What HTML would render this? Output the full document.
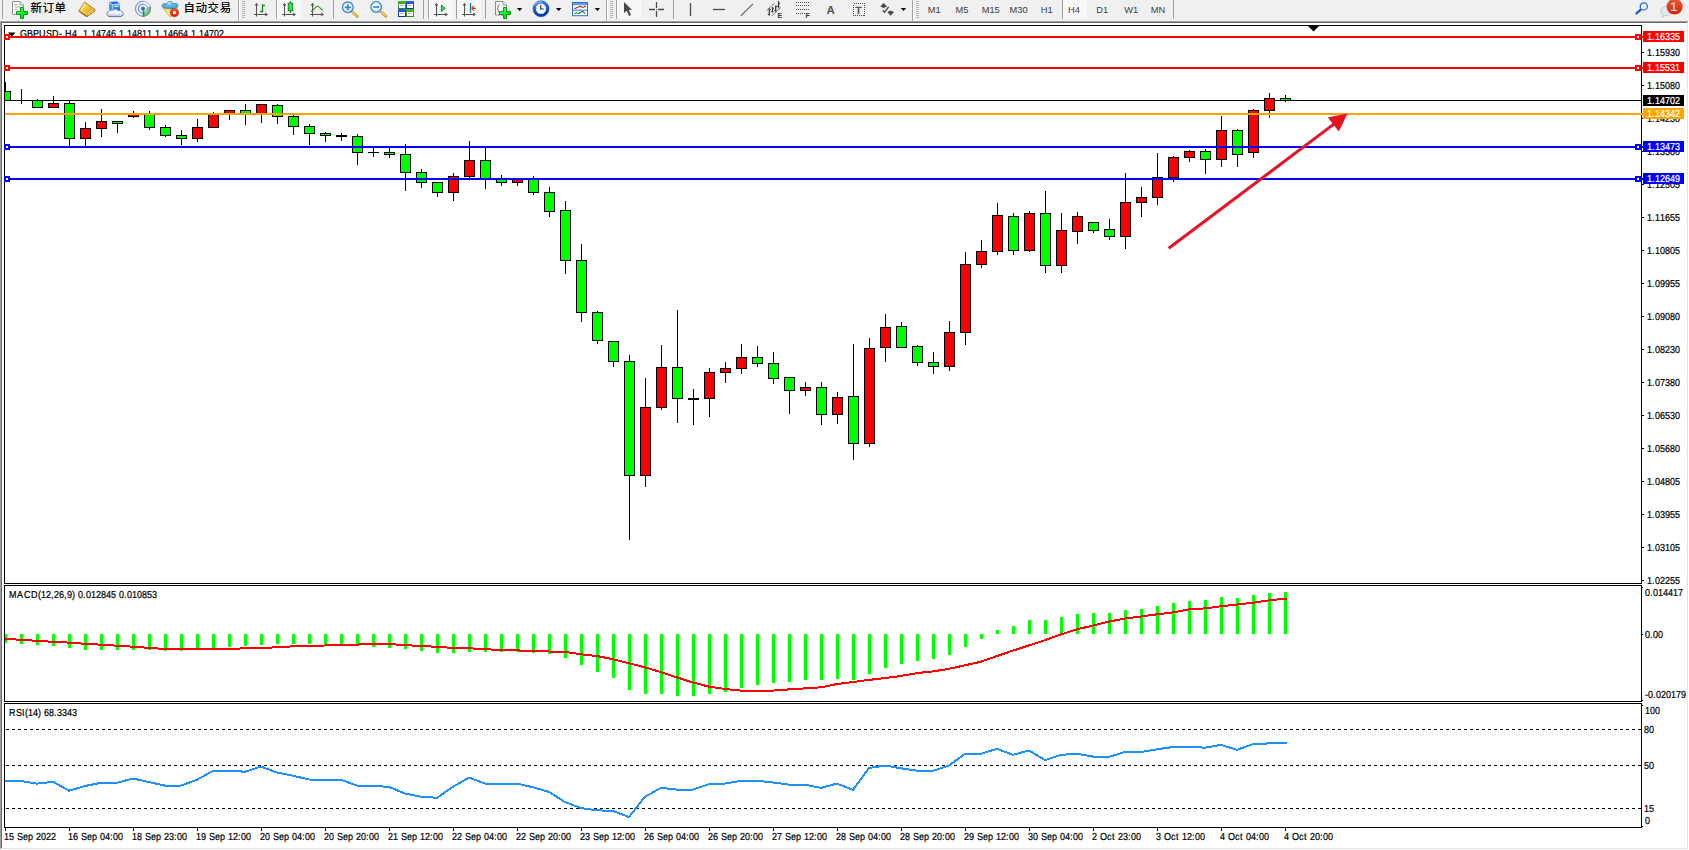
<!DOCTYPE html>
<html lang="zh-CN"><head><meta charset="utf-8"><title>GBPUSD-,H4</title>
<style>html,body{margin:0;padding:0;background:#fff;overflow:hidden}body{width:1689px;height:850px}svg{display:block}text{font-family:"Liberation Sans", sans-serif;font-size:10.17px;fill:#000;text-rendering:geometricPrecision}.t{stroke:#000;stroke-width:.22px}.cj{font-family:"Liberation Sans", "Noto Sans CJK SC", sans-serif;font-size:11.5px;letter-spacing:.55px;fill:#000;font-weight:500;text-rendering:auto}.tf{fill:#3c3c3c;font-size:9.3px;text-rendering:auto}.w{fill:#fff}</style></head><body>
<svg width="1689" height="850" viewBox="0 0 1689 850">
<g shape-rendering="crispEdges">
<rect x="0" y="0" width="1689" height="850" fill="#fff"/>
<rect x="0" y="0" width="1689" height="21" fill="#f0f0f0"/>
<rect x="0" y="21" width="1688" height="1" fill="#a0a0a0"/>
<rect x="1" y="22" width="1686" height="1" fill="#696969"/>
<rect x="0" y="21" width="1" height="828" fill="#a0a0a0"/>
<rect x="1" y="22" width="1" height="826" fill="#696969"/>
<rect x="1687" y="22" width="1" height="827" fill="#e3e3e3"/>
<rect x="2" y="848" width="1686" height="1" fill="#e3e3e3"/>
<rect x="4" y="25" width="1638" height="1" fill="#000"/>
<rect x="4" y="583" width="1638" height="1" fill="#000"/>
<rect x="4" y="25" width="1" height="559" fill="#000"/>
<rect x="1641" y="25" width="1" height="559" fill="#000"/>
<rect x="4" y="585" width="1638" height="1" fill="#000"/>
<rect x="4" y="701" width="1638" height="1" fill="#000"/>
<rect x="4" y="585" width="1" height="117" fill="#000"/>
<rect x="1641" y="585" width="1" height="117" fill="#000"/>
<rect x="4" y="703" width="1638" height="1" fill="#000"/>
<rect x="4" y="827" width="1638" height="1" fill="#000"/>
<rect x="4" y="703" width="1" height="125" fill="#000"/>
<rect x="1641" y="703" width="1" height="125" fill="#000"/>
</g>
<defs><clipPath id="cm"><rect x="5" y="26" width="1636" height="557"/></clipPath><clipPath id="ct"><rect x="5" y="26" width="1636" height="10"/></clipPath></defs>
<g shape-rendering="crispEdges" clip-path="url(#cm)">
<rect x="5" y="100" width="1636" height="1" fill="#000"/>
<rect x="5" y="82" width="1" height="19" fill="#000"/>
<rect x="0" y="91" width="11" height="10" fill="#000"/>
<rect x="1" y="92" width="9" height="8" fill="#00ff00"/>
<rect x="21" y="89" width="1" height="15" fill="#000"/>
<rect x="16" y="100" width="11" height="1" fill="#000"/>
<rect x="37" y="99" width="1" height="9" fill="#000"/>
<rect x="32" y="100" width="11" height="8" fill="#000"/>
<rect x="33" y="101" width="9" height="6" fill="#00ff00"/>
<rect x="53" y="96" width="1" height="12" fill="#000"/>
<rect x="48" y="103" width="11" height="5" fill="#000"/>
<rect x="49" y="104" width="9" height="3" fill="#ff0000"/>
<rect x="69" y="101" width="1" height="45" fill="#000"/>
<rect x="64" y="103" width="11" height="36" fill="#000"/>
<rect x="65" y="104" width="9" height="34" fill="#00ff00"/>
<rect x="85" y="122" width="1" height="24" fill="#000"/>
<rect x="80" y="128" width="11" height="11" fill="#000"/>
<rect x="81" y="129" width="9" height="9" fill="#ff0000"/>
<rect x="101" y="109" width="1" height="28" fill="#000"/>
<rect x="96" y="121" width="11" height="8" fill="#000"/>
<rect x="97" y="122" width="9" height="6" fill="#ff0000"/>
<rect x="117" y="121" width="1" height="12" fill="#000"/>
<rect x="112" y="121" width="11" height="3" fill="#000"/>
<rect x="113" y="122" width="9" height="1" fill="#00ff00"/>
<rect x="133" y="111" width="1" height="7" fill="#000"/>
<rect x="128" y="114" width="11" height="3" fill="#000"/>
<rect x="129" y="115" width="9" height="1" fill="#ff0000"/>
<rect x="149" y="111" width="1" height="19" fill="#000"/>
<rect x="144" y="114" width="11" height="14" fill="#000"/>
<rect x="145" y="115" width="9" height="12" fill="#00ff00"/>
<rect x="165" y="125" width="1" height="12" fill="#000"/>
<rect x="160" y="127" width="11" height="9" fill="#000"/>
<rect x="161" y="128" width="9" height="7" fill="#00ff00"/>
<rect x="181" y="130" width="1" height="15" fill="#000"/>
<rect x="176" y="135" width="11" height="4" fill="#000"/>
<rect x="177" y="136" width="9" height="2" fill="#00ff00"/>
<rect x="197" y="119" width="1" height="23" fill="#000"/>
<rect x="192" y="127" width="11" height="12" fill="#000"/>
<rect x="193" y="128" width="9" height="10" fill="#ff0000"/>
<rect x="213" y="112" width="1" height="16" fill="#000"/>
<rect x="208" y="114" width="11" height="14" fill="#000"/>
<rect x="209" y="115" width="9" height="12" fill="#ff0000"/>
<rect x="229" y="110" width="1" height="10" fill="#000"/>
<rect x="224" y="110" width="11" height="5" fill="#000"/>
<rect x="225" y="111" width="9" height="3" fill="#ff0000"/>
<rect x="245" y="104" width="1" height="21" fill="#000"/>
<rect x="240" y="110" width="11" height="5" fill="#000"/>
<rect x="241" y="111" width="9" height="3" fill="#00ff00"/>
<rect x="261" y="104" width="1" height="19" fill="#000"/>
<rect x="256" y="104" width="11" height="11" fill="#000"/>
<rect x="257" y="105" width="9" height="9" fill="#ff0000"/>
<rect x="277" y="104" width="1" height="20" fill="#000"/>
<rect x="272" y="105" width="11" height="12" fill="#000"/>
<rect x="273" y="106" width="9" height="10" fill="#00ff00"/>
<rect x="293" y="115" width="1" height="20" fill="#000"/>
<rect x="288" y="116" width="11" height="11" fill="#000"/>
<rect x="289" y="117" width="9" height="9" fill="#00ff00"/>
<rect x="309" y="124" width="1" height="21" fill="#000"/>
<rect x="304" y="126" width="11" height="8" fill="#000"/>
<rect x="305" y="127" width="9" height="6" fill="#00ff00"/>
<rect x="325" y="132" width="1" height="10" fill="#000"/>
<rect x="320" y="133" width="11" height="3" fill="#000"/>
<rect x="321" y="134" width="9" height="1" fill="#00ff00"/>
<rect x="341" y="133" width="1" height="8" fill="#000"/>
<rect x="336" y="135" width="11" height="2" fill="#000"/>
<rect x="357" y="134" width="1" height="31" fill="#000"/>
<rect x="352" y="136" width="11" height="17" fill="#000"/>
<rect x="353" y="137" width="9" height="15" fill="#00ff00"/>
<rect x="373" y="146" width="1" height="11" fill="#000"/>
<rect x="368" y="152" width="11" height="1" fill="#000"/>
<rect x="389" y="148" width="1" height="10" fill="#000"/>
<rect x="384" y="152" width="11" height="3" fill="#000"/>
<rect x="385" y="153" width="9" height="1" fill="#00ff00"/>
<rect x="405" y="144" width="1" height="47" fill="#000"/>
<rect x="400" y="154" width="11" height="19" fill="#000"/>
<rect x="401" y="155" width="9" height="17" fill="#00ff00"/>
<rect x="421" y="169" width="1" height="19" fill="#000"/>
<rect x="416" y="172" width="11" height="11" fill="#000"/>
<rect x="417" y="173" width="9" height="9" fill="#00ff00"/>
<rect x="437" y="182" width="1" height="15" fill="#000"/>
<rect x="432" y="182" width="11" height="11" fill="#000"/>
<rect x="433" y="183" width="9" height="9" fill="#00ff00"/>
<rect x="453" y="173" width="1" height="28" fill="#000"/>
<rect x="448" y="176" width="11" height="17" fill="#000"/>
<rect x="449" y="177" width="9" height="15" fill="#ff0000"/>
<rect x="469" y="141" width="1" height="37" fill="#000"/>
<rect x="464" y="160" width="11" height="17" fill="#000"/>
<rect x="465" y="161" width="9" height="15" fill="#ff0000"/>
<rect x="485" y="146" width="1" height="43" fill="#000"/>
<rect x="480" y="160" width="11" height="19" fill="#000"/>
<rect x="481" y="161" width="9" height="17" fill="#00ff00"/>
<rect x="501" y="175" width="1" height="11" fill="#000"/>
<rect x="496" y="178" width="11" height="5" fill="#000"/>
<rect x="497" y="179" width="9" height="3" fill="#00ff00"/>
<rect x="517" y="178" width="1" height="8" fill="#000"/>
<rect x="512" y="179" width="11" height="4" fill="#000"/>
<rect x="513" y="180" width="9" height="2" fill="#ff0000"/>
<rect x="533" y="176" width="1" height="19" fill="#000"/>
<rect x="528" y="179" width="11" height="14" fill="#000"/>
<rect x="529" y="180" width="9" height="12" fill="#00ff00"/>
<rect x="549" y="187" width="1" height="30" fill="#000"/>
<rect x="544" y="192" width="11" height="20" fill="#000"/>
<rect x="545" y="193" width="9" height="18" fill="#00ff00"/>
<rect x="565" y="201" width="1" height="73" fill="#000"/>
<rect x="560" y="210" width="11" height="51" fill="#000"/>
<rect x="561" y="211" width="9" height="49" fill="#00ff00"/>
<rect x="581" y="244" width="1" height="78" fill="#000"/>
<rect x="576" y="260" width="11" height="53" fill="#000"/>
<rect x="577" y="261" width="9" height="51" fill="#00ff00"/>
<rect x="597" y="311" width="1" height="33" fill="#000"/>
<rect x="592" y="312" width="11" height="29" fill="#000"/>
<rect x="593" y="313" width="9" height="27" fill="#00ff00"/>
<rect x="613" y="341" width="1" height="26" fill="#000"/>
<rect x="608" y="341" width="11" height="21" fill="#000"/>
<rect x="609" y="342" width="9" height="19" fill="#00ff00"/>
<rect x="629" y="355" width="1" height="185" fill="#000"/>
<rect x="624" y="361" width="11" height="115" fill="#000"/>
<rect x="625" y="362" width="9" height="113" fill="#00ff00"/>
<rect x="645" y="378" width="1" height="109" fill="#000"/>
<rect x="640" y="407" width="11" height="69" fill="#000"/>
<rect x="641" y="408" width="9" height="67" fill="#ff0000"/>
<rect x="661" y="345" width="1" height="65" fill="#000"/>
<rect x="656" y="367" width="11" height="41" fill="#000"/>
<rect x="657" y="368" width="9" height="39" fill="#ff0000"/>
<rect x="677" y="310" width="1" height="113" fill="#000"/>
<rect x="672" y="367" width="11" height="32" fill="#000"/>
<rect x="673" y="368" width="9" height="30" fill="#00ff00"/>
<rect x="693" y="389" width="1" height="36" fill="#000"/>
<rect x="688" y="398" width="11" height="2" fill="#000"/>
<rect x="709" y="368" width="1" height="49" fill="#000"/>
<rect x="704" y="372" width="11" height="27" fill="#000"/>
<rect x="705" y="373" width="9" height="25" fill="#ff0000"/>
<rect x="725" y="362" width="1" height="21" fill="#000"/>
<rect x="720" y="368" width="11" height="5" fill="#000"/>
<rect x="721" y="369" width="9" height="3" fill="#ff0000"/>
<rect x="741" y="344" width="1" height="30" fill="#000"/>
<rect x="736" y="357" width="11" height="12" fill="#000"/>
<rect x="737" y="358" width="9" height="10" fill="#ff0000"/>
<rect x="757" y="346" width="1" height="21" fill="#000"/>
<rect x="752" y="357" width="11" height="7" fill="#000"/>
<rect x="753" y="358" width="9" height="5" fill="#00ff00"/>
<rect x="773" y="352" width="1" height="32" fill="#000"/>
<rect x="768" y="363" width="11" height="16" fill="#000"/>
<rect x="769" y="364" width="9" height="14" fill="#00ff00"/>
<rect x="789" y="377" width="1" height="37" fill="#000"/>
<rect x="784" y="377" width="11" height="14" fill="#000"/>
<rect x="785" y="378" width="9" height="12" fill="#00ff00"/>
<rect x="805" y="382" width="1" height="14" fill="#000"/>
<rect x="800" y="387" width="11" height="4" fill="#000"/>
<rect x="801" y="388" width="9" height="2" fill="#ff0000"/>
<rect x="821" y="382" width="1" height="43" fill="#000"/>
<rect x="816" y="387" width="11" height="28" fill="#000"/>
<rect x="817" y="388" width="9" height="26" fill="#00ff00"/>
<rect x="837" y="392" width="1" height="32" fill="#000"/>
<rect x="832" y="397" width="11" height="18" fill="#000"/>
<rect x="833" y="398" width="9" height="16" fill="#ff0000"/>
<rect x="853" y="344" width="1" height="116" fill="#000"/>
<rect x="848" y="396" width="11" height="48" fill="#000"/>
<rect x="849" y="397" width="9" height="46" fill="#00ff00"/>
<rect x="869" y="338" width="1" height="109" fill="#000"/>
<rect x="864" y="348" width="11" height="96" fill="#000"/>
<rect x="865" y="349" width="9" height="94" fill="#ff0000"/>
<rect x="885" y="314" width="1" height="48" fill="#000"/>
<rect x="880" y="327" width="11" height="21" fill="#000"/>
<rect x="881" y="328" width="9" height="19" fill="#ff0000"/>
<rect x="901" y="322" width="1" height="26" fill="#000"/>
<rect x="896" y="326" width="11" height="22" fill="#000"/>
<rect x="897" y="327" width="9" height="20" fill="#00ff00"/>
<rect x="917" y="345" width="1" height="21" fill="#000"/>
<rect x="912" y="346" width="11" height="17" fill="#000"/>
<rect x="913" y="347" width="9" height="15" fill="#00ff00"/>
<rect x="933" y="352" width="1" height="22" fill="#000"/>
<rect x="928" y="362" width="11" height="5" fill="#000"/>
<rect x="929" y="363" width="9" height="3" fill="#00ff00"/>
<rect x="949" y="321" width="1" height="50" fill="#000"/>
<rect x="944" y="332" width="11" height="35" fill="#000"/>
<rect x="945" y="333" width="9" height="33" fill="#ff0000"/>
<rect x="965" y="252" width="1" height="93" fill="#000"/>
<rect x="960" y="264" width="11" height="69" fill="#000"/>
<rect x="961" y="265" width="9" height="67" fill="#ff0000"/>
<rect x="981" y="240" width="1" height="28" fill="#000"/>
<rect x="976" y="251" width="11" height="14" fill="#000"/>
<rect x="977" y="252" width="9" height="12" fill="#ff0000"/>
<rect x="997" y="203" width="1" height="52" fill="#000"/>
<rect x="992" y="215" width="11" height="37" fill="#000"/>
<rect x="993" y="216" width="9" height="35" fill="#ff0000"/>
<rect x="1013" y="213" width="1" height="42" fill="#000"/>
<rect x="1008" y="216" width="11" height="35" fill="#000"/>
<rect x="1009" y="217" width="9" height="33" fill="#00ff00"/>
<rect x="1029" y="211" width="1" height="41" fill="#000"/>
<rect x="1024" y="213" width="11" height="38" fill="#000"/>
<rect x="1025" y="214" width="9" height="36" fill="#ff0000"/>
<rect x="1045" y="191" width="1" height="82" fill="#000"/>
<rect x="1040" y="213" width="11" height="53" fill="#000"/>
<rect x="1041" y="214" width="9" height="51" fill="#00ff00"/>
<rect x="1061" y="213" width="1" height="60" fill="#000"/>
<rect x="1056" y="230" width="11" height="36" fill="#000"/>
<rect x="1057" y="231" width="9" height="34" fill="#ff0000"/>
<rect x="1077" y="212" width="1" height="32" fill="#000"/>
<rect x="1072" y="216" width="11" height="16" fill="#000"/>
<rect x="1073" y="217" width="9" height="14" fill="#ff0000"/>
<rect x="1093" y="222" width="1" height="11" fill="#000"/>
<rect x="1088" y="222" width="11" height="9" fill="#000"/>
<rect x="1089" y="223" width="9" height="7" fill="#00ff00"/>
<rect x="1109" y="219" width="1" height="21" fill="#000"/>
<rect x="1104" y="229" width="11" height="8" fill="#000"/>
<rect x="1105" y="230" width="9" height="6" fill="#00ff00"/>
<rect x="1125" y="173" width="1" height="76" fill="#000"/>
<rect x="1120" y="202" width="11" height="35" fill="#000"/>
<rect x="1121" y="203" width="9" height="33" fill="#ff0000"/>
<rect x="1141" y="187" width="1" height="30" fill="#000"/>
<rect x="1136" y="197" width="11" height="6" fill="#000"/>
<rect x="1137" y="198" width="9" height="4" fill="#ff0000"/>
<rect x="1157" y="153" width="1" height="52" fill="#000"/>
<rect x="1152" y="177" width="11" height="21" fill="#000"/>
<rect x="1153" y="178" width="9" height="19" fill="#ff0000"/>
<rect x="1173" y="156" width="1" height="26" fill="#000"/>
<rect x="1168" y="157" width="11" height="21" fill="#000"/>
<rect x="1169" y="158" width="9" height="19" fill="#ff0000"/>
<rect x="1189" y="150" width="1" height="12" fill="#000"/>
<rect x="1184" y="151" width="11" height="7" fill="#000"/>
<rect x="1185" y="152" width="9" height="5" fill="#ff0000"/>
<rect x="1205" y="149" width="1" height="25" fill="#000"/>
<rect x="1200" y="151" width="11" height="9" fill="#000"/>
<rect x="1201" y="152" width="9" height="7" fill="#00ff00"/>
<rect x="1221" y="116" width="1" height="51" fill="#000"/>
<rect x="1216" y="130" width="11" height="30" fill="#000"/>
<rect x="1217" y="131" width="9" height="28" fill="#ff0000"/>
<rect x="1237" y="129" width="1" height="38" fill="#000"/>
<rect x="1232" y="130" width="11" height="25" fill="#000"/>
<rect x="1233" y="131" width="9" height="23" fill="#00ff00"/>
<rect x="1253" y="109" width="1" height="49" fill="#000"/>
<rect x="1248" y="110" width="11" height="43" fill="#000"/>
<rect x="1249" y="111" width="9" height="41" fill="#ff0000"/>
<rect x="1269" y="93" width="1" height="25" fill="#000"/>
<rect x="1264" y="98" width="11" height="13" fill="#000"/>
<rect x="1265" y="99" width="9" height="11" fill="#ff0000"/>
<rect x="1285" y="95" width="1" height="7" fill="#000"/>
<rect x="1280" y="98" width="11" height="3" fill="#000"/>
<rect x="1281" y="99" width="9" height="1" fill="#00ff00"/>
</g>
<g shape-rendering="crispEdges">
<rect x="4" y="36" width="1639" height="2" fill="#ff0000"/>
<rect x="4" y="67" width="1639" height="2" fill="#ff0000"/>
<rect x="5" y="113" width="1638" height="2" fill="#ffa500"/>
<rect x="4" y="146" width="1639" height="2" fill="#0000ff"/>
<rect x="4" y="178" width="1639" height="2" fill="#0000ff"/>
<rect x="4" y="34" width="6" height="6" fill="#ff0000"/>
<rect x="6" y="36" width="2" height="2" fill="#fff"/>
<rect x="1635" y="34" width="6" height="6" fill="#ff0000"/>
<rect x="1637" y="36" width="2" height="2" fill="#fff"/>
<rect x="4" y="65" width="6" height="6" fill="#ff0000"/>
<rect x="6" y="67" width="2" height="2" fill="#fff"/>
<rect x="1635" y="65" width="6" height="6" fill="#ff0000"/>
<rect x="1637" y="67" width="2" height="2" fill="#fff"/>
<rect x="4" y="144" width="6" height="6" fill="#0000ff"/>
<rect x="6" y="146" width="2" height="2" fill="#fff"/>
<rect x="1635" y="144" width="6" height="6" fill="#0000ff"/>
<rect x="1637" y="146" width="2" height="2" fill="#fff"/>
<rect x="4" y="176" width="6" height="6" fill="#0000ff"/>
<rect x="6" y="178" width="2" height="2" fill="#fff"/>
<rect x="1635" y="176" width="6" height="6" fill="#0000ff"/>
<rect x="1637" y="178" width="2" height="2" fill="#fff"/>
</g>
<g fill="#e81224" stroke="none">
<line x1="1168.7" y1="248.2" x2="1334.5" y2="123.6" stroke="#e81224" stroke-width="3"/>
<polygon points="1347.6,113.3 1327.8,117.6 1338.8,131.6"/>
</g>
<polygon points="1308,26 1319,26 1313.5,31.5" fill="#000"/>
<polygon points="8,32.5 15.5,32.5 11.75,36.5" fill="#000"/>
<g clip-path="url(#ct)">
<text class="t" transform="translate(20,37) scale(0.8840,1)" x="0.00 7.92 14.71 21.49 29.41 36.20 44.12 47.51 50.90 58.82 64.48 67.87 71.27 76.92 80.32 85.97 91.63 97.28 102.94 108.60 111.99 117.65 121.04 126.70 132.35 138.01 143.66 149.32 152.71 158.37 161.76 167.42 173.08 178.73 184.39 190.04 193.44 199.09 202.49 208.14 213.80 219.46 225.11" y="0">GBPUSD-,H4&#160;&#160;1.14746 1.14811 1.14664 1.14702</text>
</g>
<rect x="10" y="36" width="230" height="2" fill="#ff0000" shape-rendering="crispEdges"/>
<g shape-rendering="crispEdges">
<rect x="1642" y="52" width="2" height="1" fill="#000"/>
<rect x="1642" y="85" width="2" height="1" fill="#000"/>
<rect x="1642" y="118" width="2" height="1" fill="#000"/>
<rect x="1642" y="151" width="2" height="1" fill="#000"/>
<rect x="1642" y="184" width="2" height="1" fill="#000"/>
<rect x="1642" y="217" width="2" height="1" fill="#000"/>
<rect x="1642" y="250" width="2" height="1" fill="#000"/>
<rect x="1642" y="283" width="2" height="1" fill="#000"/>
<rect x="1642" y="316" width="2" height="1" fill="#000"/>
<rect x="1642" y="349" width="2" height="1" fill="#000"/>
<rect x="1642" y="382" width="2" height="1" fill="#000"/>
<rect x="1642" y="415" width="2" height="1" fill="#000"/>
<rect x="1642" y="448" width="2" height="1" fill="#000"/>
<rect x="1642" y="481" width="2" height="1" fill="#000"/>
<rect x="1642" y="514" width="2" height="1" fill="#000"/>
<rect x="1642" y="547" width="2" height="1" fill="#000"/>
<rect x="1642" y="580" width="2" height="1" fill="#000"/>
</g>
<text class="t" transform="translate(1647,56) scale(0.8840,1)" x="0.00 5.66 9.05 14.71 20.36 26.02 31.67" y="0">1.15930</text>
<text class="t" transform="translate(1647,89) scale(0.8840,1)" x="0.00 5.66 9.05 14.71 20.36 26.02 31.67" y="0">1.15080</text>
<text class="t" transform="translate(1647,122) scale(0.8840,1)" x="0.00 5.66 9.05 14.71 20.36 26.02 31.67" y="0">1.14230</text>
<text class="t" transform="translate(1647,155) scale(0.8840,1)" x="0.00 5.66 9.05 14.71 20.36 26.02 31.67" y="0">1.13380</text>
<text class="t" transform="translate(1647,188) scale(0.8840,1)" x="0.00 5.66 9.05 14.71 20.36 26.02 31.67" y="0">1.12505</text>
<text class="t" transform="translate(1647,221) scale(0.8840,1)" x="0.00 5.66 9.05 14.71 20.36 26.02 31.67" y="0">1.11655</text>
<text class="t" transform="translate(1647,254) scale(0.8840,1)" x="0.00 5.66 9.05 14.71 20.36 26.02 31.67" y="0">1.10805</text>
<text class="t" transform="translate(1647,287) scale(0.8840,1)" x="0.00 5.66 9.05 14.71 20.36 26.02 31.67" y="0">1.09955</text>
<text class="t" transform="translate(1647,320) scale(0.8840,1)" x="0.00 5.66 9.05 14.71 20.36 26.02 31.67" y="0">1.09080</text>
<text class="t" transform="translate(1647,353) scale(0.8840,1)" x="0.00 5.66 9.05 14.71 20.36 26.02 31.67" y="0">1.08230</text>
<text class="t" transform="translate(1647,386) scale(0.8840,1)" x="0.00 5.66 9.05 14.71 20.36 26.02 31.67" y="0">1.07380</text>
<text class="t" transform="translate(1647,419) scale(0.8840,1)" x="0.00 5.66 9.05 14.71 20.36 26.02 31.67" y="0">1.06530</text>
<text class="t" transform="translate(1647,452) scale(0.8840,1)" x="0.00 5.66 9.05 14.71 20.36 26.02 31.67" y="0">1.05680</text>
<text class="t" transform="translate(1647,485) scale(0.8840,1)" x="0.00 5.66 9.05 14.71 20.36 26.02 31.67" y="0">1.04805</text>
<text class="t" transform="translate(1647,518) scale(0.8840,1)" x="0.00 5.66 9.05 14.71 20.36 26.02 31.67" y="0">1.03955</text>
<text class="t" transform="translate(1647,551) scale(0.8840,1)" x="0.00 5.66 9.05 14.71 20.36 26.02 31.67" y="0">1.03105</text>
<text class="t" transform="translate(1647,584) scale(0.8840,1)" x="0.00 5.66 9.05 14.71 20.36 26.02 31.67" y="0">1.02255</text>
<rect x="1643" y="31" width="41" height="11" fill="#ff0000" shape-rendering="crispEdges"/>
<text class="t" transform="translate(1647,40) scale(0.8840,1)" x="0.00 5.66 9.05 14.71 20.36 26.02 31.67" y="0" style="fill:#fff;stroke:#fff">1.16335</text>
<rect x="1643" y="62" width="41" height="11" fill="#ff0000" shape-rendering="crispEdges"/>
<text class="t" transform="translate(1647,71) scale(0.8840,1)" x="0.00 5.66 9.05 14.71 20.36 26.02 31.67" y="0" style="fill:#fff;stroke:#fff">1.15531</text>
<rect x="1643" y="95" width="41" height="11" fill="#000" shape-rendering="crispEdges"/>
<text class="t" transform="translate(1647,104) scale(0.8840,1)" x="0.00 5.66 9.05 14.71 20.36 26.02 31.67" y="0" style="fill:#fff;stroke:#fff">1.14702</text>
<rect x="1643" y="108" width="41" height="11" fill="#ffa500" shape-rendering="crispEdges"/>
<text class="t" transform="translate(1647,117) scale(0.8840,1)" x="0.00 5.66 9.05 14.71 20.36 26.02 31.67" y="0" style="fill:#fff;stroke:#fff">1.14342</text>
<rect x="1643" y="141" width="41" height="11" fill="#0000ff" shape-rendering="crispEdges"/>
<text class="t" transform="translate(1647,150) scale(0.8840,1)" x="0.00 5.66 9.05 14.71 20.36 26.02 31.67" y="0" style="fill:#fff;stroke:#fff">1.13473</text>
<rect x="1643" y="173" width="41" height="11" fill="#0000ff" shape-rendering="crispEdges"/>
<text class="t" transform="translate(1647,182) scale(0.8840,1)" x="0.00 5.66 9.05 14.71 20.36 26.02 31.67" y="0" style="fill:#fff;stroke:#fff">1.12649</text>
<g shape-rendering="crispEdges">
<rect x="5" y="634" width="2" height="9" fill="#00ff00"/>
<rect x="20" y="634" width="3" height="10" fill="#00ff00"/>
<rect x="36" y="634" width="3" height="11" fill="#00ff00"/>
<rect x="52" y="634" width="3" height="12" fill="#00ff00"/>
<rect x="68" y="634" width="3" height="14" fill="#00ff00"/>
<rect x="84" y="634" width="3" height="16" fill="#00ff00"/>
<rect x="100" y="634" width="3" height="16" fill="#00ff00"/>
<rect x="116" y="634" width="3" height="16" fill="#00ff00"/>
<rect x="132" y="634" width="3" height="16" fill="#00ff00"/>
<rect x="148" y="634" width="3" height="16" fill="#00ff00"/>
<rect x="164" y="634" width="3" height="17" fill="#00ff00"/>
<rect x="180" y="634" width="3" height="17" fill="#00ff00"/>
<rect x="196" y="634" width="3" height="14" fill="#00ff00"/>
<rect x="212" y="634" width="3" height="14" fill="#00ff00"/>
<rect x="228" y="634" width="3" height="13" fill="#00ff00"/>
<rect x="244" y="634" width="3" height="12" fill="#00ff00"/>
<rect x="260" y="634" width="3" height="11" fill="#00ff00"/>
<rect x="276" y="634" width="3" height="10" fill="#00ff00"/>
<rect x="292" y="634" width="3" height="10" fill="#00ff00"/>
<rect x="308" y="634" width="3" height="10" fill="#00ff00"/>
<rect x="324" y="634" width="3" height="11" fill="#00ff00"/>
<rect x="340" y="634" width="3" height="11" fill="#00ff00"/>
<rect x="356" y="634" width="3" height="12" fill="#00ff00"/>
<rect x="372" y="634" width="3" height="13" fill="#00ff00"/>
<rect x="388" y="634" width="3" height="14" fill="#00ff00"/>
<rect x="404" y="634" width="3" height="15" fill="#00ff00"/>
<rect x="420" y="634" width="3" height="17" fill="#00ff00"/>
<rect x="436" y="634" width="3" height="19" fill="#00ff00"/>
<rect x="452" y="634" width="3" height="19" fill="#00ff00"/>
<rect x="468" y="634" width="3" height="18" fill="#00ff00"/>
<rect x="484" y="634" width="3" height="18" fill="#00ff00"/>
<rect x="500" y="634" width="3" height="18" fill="#00ff00"/>
<rect x="516" y="634" width="3" height="18" fill="#00ff00"/>
<rect x="532" y="634" width="3" height="19" fill="#00ff00"/>
<rect x="548" y="634" width="3" height="20" fill="#00ff00"/>
<rect x="564" y="634" width="3" height="24" fill="#00ff00"/>
<rect x="580" y="634" width="3" height="31" fill="#00ff00"/>
<rect x="596" y="634" width="3" height="38" fill="#00ff00"/>
<rect x="612" y="634" width="3" height="44" fill="#00ff00"/>
<rect x="628" y="634" width="3" height="56" fill="#00ff00"/>
<rect x="644" y="634" width="3" height="60" fill="#00ff00"/>
<rect x="660" y="634" width="3" height="60" fill="#00ff00"/>
<rect x="676" y="634" width="3" height="62" fill="#00ff00"/>
<rect x="692" y="634" width="3" height="62" fill="#00ff00"/>
<rect x="708" y="634" width="3" height="60" fill="#00ff00"/>
<rect x="724" y="634" width="3" height="58" fill="#00ff00"/>
<rect x="740" y="634" width="3" height="54" fill="#00ff00"/>
<rect x="756" y="634" width="3" height="51" fill="#00ff00"/>
<rect x="772" y="634" width="3" height="49" fill="#00ff00"/>
<rect x="788" y="634" width="3" height="48" fill="#00ff00"/>
<rect x="804" y="634" width="3" height="46" fill="#00ff00"/>
<rect x="820" y="634" width="3" height="46" fill="#00ff00"/>
<rect x="836" y="634" width="3" height="45" fill="#00ff00"/>
<rect x="852" y="634" width="3" height="46" fill="#00ff00"/>
<rect x="868" y="634" width="3" height="40" fill="#00ff00"/>
<rect x="884" y="634" width="3" height="34" fill="#00ff00"/>
<rect x="900" y="634" width="3" height="30" fill="#00ff00"/>
<rect x="916" y="634" width="3" height="27" fill="#00ff00"/>
<rect x="932" y="634" width="3" height="25" fill="#00ff00"/>
<rect x="948" y="634" width="3" height="21" fill="#00ff00"/>
<rect x="964" y="634" width="3" height="13" fill="#00ff00"/>
<rect x="980" y="634" width="3" height="5" fill="#00ff00"/>
<rect x="996" y="630" width="3" height="4" fill="#00ff00"/>
<rect x="1012" y="626" width="3" height="8" fill="#00ff00"/>
<rect x="1028" y="620" width="3" height="14" fill="#00ff00"/>
<rect x="1044" y="620" width="3" height="14" fill="#00ff00"/>
<rect x="1060" y="617" width="3" height="17" fill="#00ff00"/>
<rect x="1076" y="614" width="3" height="20" fill="#00ff00"/>
<rect x="1092" y="613" width="3" height="21" fill="#00ff00"/>
<rect x="1108" y="613" width="3" height="21" fill="#00ff00"/>
<rect x="1124" y="610" width="3" height="24" fill="#00ff00"/>
<rect x="1140" y="609" width="3" height="25" fill="#00ff00"/>
<rect x="1156" y="606" width="3" height="28" fill="#00ff00"/>
<rect x="1172" y="603" width="3" height="31" fill="#00ff00"/>
<rect x="1188" y="601" width="3" height="33" fill="#00ff00"/>
<rect x="1204" y="600" width="3" height="34" fill="#00ff00"/>
<rect x="1220" y="597" width="3" height="37" fill="#00ff00"/>
<rect x="1236" y="598" width="3" height="36" fill="#00ff00"/>
<rect x="1252" y="595" width="3" height="39" fill="#00ff00"/>
<rect x="1268" y="593" width="3" height="41" fill="#00ff00"/>
<rect x="1284" y="592" width="3" height="42" fill="#00ff00"/>
<polyline points="5,638.8 21,639.8 37,640.8 53,641.8 69,642.6 85,643.8 101,644.7 117,645.7 133,646.7 149,647.9 165,649.0 181,649.0 197,649.0 213,649.0 229,649.0 245,648.3 261,648.0 277,647.3 293,646.3 309,645.9 325,645.5 341,645.2 357,644.6 373,644.0 389,644.0 405,645.2 421,645.9 437,646.9 453,647.9 469,648.2 485,649.4 501,649.7 517,650.4 533,651.1 549,651.5 565,651.9 581,654.3 597,656.0 613,659.2 629,663.2 645,667.4 661,672.1 677,677.4 693,682.6 709,686.6 725,689.0 741,690.6 757,690.9 773,690.6 789,689.4 805,688.4 821,687.3 837,684.0 853,682.0 869,679.9 885,678.1 901,675.9 917,673.1 933,671.4 949,668.8 965,665.3 981,661.7 997,656.0 1013,650.6 1029,645.4 1045,640.1 1061,634.4 1077,629.3 1093,625.5 1109,621.6 1125,618.5 1141,616.5 1157,614.3 1173,612.4 1189,609.4 1205,608.4 1221,606.3 1237,604.5 1253,602.8 1269,600.3 1285,598.8 1286.5,598.8" fill="none" stroke="#ff0000" stroke-width="2"/>
<rect x="1642" y="587" width="1" height="1" fill="#000"/>
<rect x="1642" y="634" width="1" height="1" fill="#000"/>
<rect x="1642" y="700" width="1" height="1" fill="#000"/>
</g>
<text class="t" transform="translate(9,598) scale(0.8840,1)" x="0.00 9.05 16.97 24.89 32.81 36.20 41.85 47.51 50.90 56.56 62.22 65.61 71.27 74.66 78.05 83.71 87.10 92.76 98.42 104.07 109.73 115.38 121.04 124.43 130.09 133.48 139.14 144.80 150.45 156.11 161.76" y="0">MACD(12,26,9) 0.012845 0.010853</text>
<text class="t" transform="translate(1645,596) scale(0.8840,1)" x="0.00 5.66 9.05 14.71 20.36 26.02 31.67 37.33" y="0">0.014417</text>
<text class="t" transform="translate(1645,638) scale(0.8840,1)" x="0.00 5.66 9.05 14.71" y="0">0.00</text>
<text class="t" transform="translate(1645,698) scale(0.8840,1)" x="0.00 3.39 9.05 12.44 18.10 23.76 29.41 35.07 40.72" y="0">-0.020179</text>
<g shape-rendering="crispEdges">
<line x1="6" y1="729.5" x2="1641" y2="729.5" stroke="#000" stroke-width="1" stroke-dasharray="3,3"/>
<line x1="6" y1="765.5" x2="1641" y2="765.5" stroke="#000" stroke-width="1" stroke-dasharray="3,3"/>
<line x1="6" y1="808.5" x2="1641" y2="808.5" stroke="#000" stroke-width="1" stroke-dasharray="3,3"/>
<polyline points="5,781.1 21,781.1 37,783.6 53,781.8 69,790.7 85,786.0 101,782.8 117,782.8 133,778.5 149,782.1 165,785.6 181,785.6 197,779.7 213,770.9 229,770.8 245,771.7 261,766.6 277,772.6 293,775.7 309,779.5 325,779.7 341,779.7 357,785.6 373,786.0 389,786.8 405,793.6 421,796.7 437,797.8 453,786.8 469,777.5 485,783.6 501,783.6 517,783.6 533,787.3 549,791.9 565,802.1 581,808.1 597,810.3 613,811.0 629,817.0 645,796.7 661,787.9 677,789.6 693,789.6 709,784.2 725,783.5 741,780.8 757,780.8 773,782.5 789,784.6 805,784.6 821,787.9 837,783.6 853,789.9 869,768.0 885,765.5 901,768.3 917,770.6 933,770.9 949,765.5 965,753.8 981,753.8 997,748.8 1013,754.8 1029,750.5 1045,760.1 1061,754.8 1077,753.8 1093,756.6 1109,756.9 1125,752.0 1141,752.0 1157,749.3 1173,747.0 1189,746.7 1205,747.7 1221,744.9 1237,749.8 1253,744.1 1269,743.4 1285,742.7 1286.5,742.7" fill="none" stroke="#1e90ff" stroke-width="2"/>
<rect x="1642" y="705" width="1" height="1" fill="#000"/>
<rect x="1642" y="826" width="1" height="1" fill="#000"/>
</g>
<text class="t" transform="translate(9,716) scale(0.8840,1)" x="0.00 7.92 14.71 18.10 21.49 27.15 32.81 36.20 39.59 45.25 50.90 54.30 59.95 65.61 71.27" y="0">RSI(14) 68.3343</text>
<text class="t" transform="translate(1645,714) scale(0.8840,1)" x="0.00 5.66 11.31" y="0">100</text>
<text class="t" transform="translate(1644,733) scale(0.8840,1)" x="0.00 5.66" y="0">80</text>
<text class="t" transform="translate(1644,769) scale(0.8840,1)" x="0.00 5.66" y="0">50</text>
<text class="t" transform="translate(1644,812) scale(0.8840,1)" x="0.00 5.66" y="0">15</text>
<text class="t" transform="translate(1645,824) scale(0.8840,1)" x="0.00" y="0">0</text>
<g shape-rendering="crispEdges">
<rect x="5" y="828" width="1" height="3" fill="#000"/>
<rect x="69" y="828" width="1" height="3" fill="#000"/>
<rect x="133" y="828" width="1" height="3" fill="#000"/>
<rect x="197" y="828" width="1" height="3" fill="#000"/>
<rect x="261" y="828" width="1" height="3" fill="#000"/>
<rect x="325" y="828" width="1" height="3" fill="#000"/>
<rect x="389" y="828" width="1" height="3" fill="#000"/>
<rect x="453" y="828" width="1" height="3" fill="#000"/>
<rect x="517" y="828" width="1" height="3" fill="#000"/>
<rect x="581" y="828" width="1" height="3" fill="#000"/>
<rect x="645" y="828" width="1" height="3" fill="#000"/>
<rect x="709" y="828" width="1" height="3" fill="#000"/>
<rect x="773" y="828" width="1" height="3" fill="#000"/>
<rect x="837" y="828" width="1" height="3" fill="#000"/>
<rect x="901" y="828" width="1" height="3" fill="#000"/>
<rect x="965" y="828" width="1" height="3" fill="#000"/>
<rect x="1029" y="828" width="1" height="3" fill="#000"/>
<rect x="1093" y="828" width="1" height="3" fill="#000"/>
<rect x="1157" y="828" width="1" height="3" fill="#000"/>
<rect x="1221" y="828" width="1" height="3" fill="#000"/>
<rect x="1285" y="828" width="1" height="3" fill="#000"/>
</g>
<text class="t" transform="translate(4,840) scale(0.8840,1)" x="0.00 5.66 11.31 14.71 21.49 27.15 32.81 36.20 41.85 47.51 53.17" y="0">15 Sep 2022</text>
<text class="t" transform="translate(68,840) scale(0.8840,1)" x="0.00 5.66 11.31 14.71 21.49 27.15 32.81 36.20 41.85 47.51 50.90 56.56" y="0">16 Sep 04:00</text>
<text class="t" transform="translate(132,840) scale(0.8840,1)" x="0.00 5.66 11.31 14.71 21.49 27.15 32.81 36.20 41.85 47.51 50.90 56.56" y="0">18 Sep 23:00</text>
<text class="t" transform="translate(196,840) scale(0.8840,1)" x="0.00 5.66 11.31 14.71 21.49 27.15 32.81 36.20 41.85 47.51 50.90 56.56" y="0">19 Sep 12:00</text>
<text class="t" transform="translate(260,840) scale(0.8840,1)" x="0.00 5.66 11.31 14.71 21.49 27.15 32.81 36.20 41.85 47.51 50.90 56.56" y="0">20 Sep 04:00</text>
<text class="t" transform="translate(324,840) scale(0.8840,1)" x="0.00 5.66 11.31 14.71 21.49 27.15 32.81 36.20 41.85 47.51 50.90 56.56" y="0">20 Sep 20:00</text>
<text class="t" transform="translate(388,840) scale(0.8840,1)" x="0.00 5.66 11.31 14.71 21.49 27.15 32.81 36.20 41.85 47.51 50.90 56.56" y="0">21 Sep 12:00</text>
<text class="t" transform="translate(452,840) scale(0.8840,1)" x="0.00 5.66 11.31 14.71 21.49 27.15 32.81 36.20 41.85 47.51 50.90 56.56" y="0">22 Sep 04:00</text>
<text class="t" transform="translate(516,840) scale(0.8840,1)" x="0.00 5.66 11.31 14.71 21.49 27.15 32.81 36.20 41.85 47.51 50.90 56.56" y="0">22 Sep 20:00</text>
<text class="t" transform="translate(580,840) scale(0.8840,1)" x="0.00 5.66 11.31 14.71 21.49 27.15 32.81 36.20 41.85 47.51 50.90 56.56" y="0">23 Sep 12:00</text>
<text class="t" transform="translate(644,840) scale(0.8840,1)" x="0.00 5.66 11.31 14.71 21.49 27.15 32.81 36.20 41.85 47.51 50.90 56.56" y="0">26 Sep 04:00</text>
<text class="t" transform="translate(708,840) scale(0.8840,1)" x="0.00 5.66 11.31 14.71 21.49 27.15 32.81 36.20 41.85 47.51 50.90 56.56" y="0">26 Sep 20:00</text>
<text class="t" transform="translate(772,840) scale(0.8840,1)" x="0.00 5.66 11.31 14.71 21.49 27.15 32.81 36.20 41.85 47.51 50.90 56.56" y="0">27 Sep 12:00</text>
<text class="t" transform="translate(836,840) scale(0.8840,1)" x="0.00 5.66 11.31 14.71 21.49 27.15 32.81 36.20 41.85 47.51 50.90 56.56" y="0">28 Sep 04:00</text>
<text class="t" transform="translate(900,840) scale(0.8840,1)" x="0.00 5.66 11.31 14.71 21.49 27.15 32.81 36.20 41.85 47.51 50.90 56.56" y="0">28 Sep 20:00</text>
<text class="t" transform="translate(964,840) scale(0.8840,1)" x="0.00 5.66 11.31 14.71 21.49 27.15 32.81 36.20 41.85 47.51 50.90 56.56" y="0">29 Sep 12:00</text>
<text class="t" transform="translate(1028,840) scale(0.8840,1)" x="0.00 5.66 11.31 14.71 21.49 27.15 32.81 36.20 41.85 47.51 50.90 56.56" y="0">30 Sep 04:00</text>
<text class="t" transform="translate(1092,840) scale(0.8840,1)" x="0.00 5.66 9.05 16.97 22.62 26.02 29.41 35.07 40.72 44.12 49.77" y="0">2 Oct 23:00</text>
<text class="t" transform="translate(1156,840) scale(0.8840,1)" x="0.00 5.66 9.05 16.97 22.62 26.02 29.41 35.07 40.72 44.12 49.77" y="0">3 Oct 12:00</text>
<text class="t" transform="translate(1220,840) scale(0.8840,1)" x="0.00 5.66 9.05 16.97 22.62 26.02 29.41 35.07 40.72 44.12 49.77" y="0">4 Oct 04:00</text>
<text class="t" transform="translate(1284,840) scale(0.8840,1)" x="0.00 5.66 9.05 16.97 22.62 26.02 29.41 35.07 40.72 44.12 49.77" y="0">4 Oct 20:00</text>
<defs>
<pattern id="chk" width="2" height="2" patternUnits="userSpaceOnUse"><rect width="2" height="2" fill="#f0f0f0"/><rect width="1" height="1" fill="#ffffff"/><rect x="1" y="1" width="1" height="1" fill="#ffffff"/></pattern>
<linearGradient id="gplus" x1="0" y1="0" x2="1" y2="1"><stop offset="0" stop-color="#7dff8a"/><stop offset=".55" stop-color="#00f020"/><stop offset="1" stop-color="#00b80e"/></linearGradient>
<linearGradient id="ggold" x1="0" y1="0" x2="1" y2="1"><stop offset="0" stop-color="#ffe98a"/><stop offset=".5" stop-color="#f2c230"/><stop offset="1" stop-color="#b98312"/></linearGradient>
<linearGradient id="gblue" x1="0" y1="0" x2="0" y2="1"><stop offset="0" stop-color="#5db4ff"/><stop offset="1" stop-color="#0f62d8"/></linearGradient>
<radialGradient id="glens" cx=".4" cy=".35" r=".7"><stop offset="0" stop-color="#ffffff"/><stop offset="1" stop-color="#bfe3fb"/></radialGradient>
<linearGradient id="gred" x1="0" y1="0" x2="0" y2="1"><stop offset="0" stop-color="#ea5a3a"/><stop offset="1" stop-color="#d8210f"/></linearGradient>
<linearGradient id="ggrn" x1="0" y1="0" x2="0" y2="1"><stop offset="0" stop-color="#49b324"/><stop offset="1" stop-color="#2e8f12"/></linearGradient>
<linearGradient id="gbl2" x1="0" y1="0" x2="0" y2="1"><stop offset="0" stop-color="#2a62e0"/><stop offset="1" stop-color="#0c2fae"/></linearGradient>
<linearGradient id="gcloud" x1="0" y1="0" x2="0" y2="1"><stop offset="0" stop-color="#ffffff"/><stop offset=".55" stop-color="#f2f5fa"/><stop offset="1" stop-color="#aebbd6"/></linearGradient>
<radialGradient id="gradar" cx="143" cy="8.7" r="8" gradientUnits="userSpaceOnUse"><stop offset="0" stop-color="#d9ecd6" stop-opacity=".5"/><stop offset=".6" stop-color="#9fd09a" stop-opacity=".85"/><stop offset="1" stop-color="#3d9a3d"/></radialGradient>
<linearGradient id="gface" x1="0" y1="0" x2="1" y2="1"><stop offset="0" stop-color="#f5d33c"/><stop offset=".6" stop-color="#fff58a"/><stop offset="1" stop-color="#e2a81c"/></linearGradient>
<linearGradient id="gclk" x1="0" y1="0" x2=".3" y2="1"><stop offset="0" stop-color="#4a9cf0"/><stop offset=".5" stop-color="#1560cf"/><stop offset="1" stop-color="#0a3c9c"/></linearGradient>
</defs>
<rect x="277" y="0" width="24" height="19" fill="url(#chk)" shape-rendering="crispEdges"/>
<rect x="429" y="0" width="24" height="19" fill="url(#chk)" shape-rendering="crispEdges"/>
<rect x="457" y="0" width="24" height="19" fill="url(#chk)" shape-rendering="crispEdges"/>
<rect x="617" y="0" width="24" height="19" fill="url(#chk)" shape-rendering="crispEdges"/>
<rect x="1063" y="0" width="24" height="19" fill="url(#chk)" shape-rendering="crispEdges"/>
<rect x="2" y="0" width="1" height="19" fill="#a0a0a0" shape-rendering="crispEdges"/>
<rect x="238" y="0" width="1" height="21" fill="#a0a0a0" shape-rendering="crispEdges"/>
<rect x="239" y="0" width="1" height="21" fill="#fff" shape-rendering="crispEdges"/>
<rect x="606" y="0" width="1" height="21" fill="#a0a0a0" shape-rendering="crispEdges"/>
<rect x="607" y="0" width="1" height="21" fill="#fff" shape-rendering="crispEdges"/>
<rect x="912" y="0" width="1" height="21" fill="#a0a0a0" shape-rendering="crispEdges"/>
<rect x="913" y="0" width="1" height="21" fill="#fff" shape-rendering="crispEdges"/>
<rect x="276" y="0" width="1" height="19" fill="#a0a0a0" shape-rendering="crispEdges"/>
<rect x="333" y="0" width="1" height="19" fill="#a0a0a0" shape-rendering="crispEdges"/>
<rect x="423" y="0" width="1" height="19" fill="#a0a0a0" shape-rendering="crispEdges"/>
<rect x="428" y="0" width="1" height="19" fill="#a0a0a0" shape-rendering="crispEdges"/>
<rect x="456" y="0" width="1" height="19" fill="#a0a0a0" shape-rendering="crispEdges"/>
<rect x="485" y="0" width="1" height="19" fill="#a0a0a0" shape-rendering="crispEdges"/>
<rect x="616" y="0" width="1" height="19" fill="#a0a0a0" shape-rendering="crispEdges"/>
<rect x="673" y="0" width="1" height="19" fill="#a0a0a0" shape-rendering="crispEdges"/>
<rect x="1062" y="0" width="1" height="19" fill="#a0a0a0" shape-rendering="crispEdges"/>
<rect x="1173" y="0" width="1" height="19" fill="#a0a0a0" shape-rendering="crispEdges"/>
<rect x="242" y="1" width="3" height="1" fill="#b4b4b4" shape-rendering="crispEdges"/>
<rect x="242" y="3" width="3" height="1" fill="#b4b4b4" shape-rendering="crispEdges"/>
<rect x="242" y="5" width="3" height="1" fill="#b4b4b4" shape-rendering="crispEdges"/>
<rect x="242" y="7" width="3" height="1" fill="#b4b4b4" shape-rendering="crispEdges"/>
<rect x="242" y="9" width="3" height="1" fill="#b4b4b4" shape-rendering="crispEdges"/>
<rect x="242" y="11" width="3" height="1" fill="#b4b4b4" shape-rendering="crispEdges"/>
<rect x="242" y="13" width="3" height="1" fill="#b4b4b4" shape-rendering="crispEdges"/>
<rect x="242" y="15" width="3" height="1" fill="#b4b4b4" shape-rendering="crispEdges"/>
<rect x="242" y="17" width="3" height="1" fill="#b4b4b4" shape-rendering="crispEdges"/>
<rect x="610" y="1" width="3" height="1" fill="#b4b4b4" shape-rendering="crispEdges"/>
<rect x="610" y="3" width="3" height="1" fill="#b4b4b4" shape-rendering="crispEdges"/>
<rect x="610" y="5" width="3" height="1" fill="#b4b4b4" shape-rendering="crispEdges"/>
<rect x="610" y="7" width="3" height="1" fill="#b4b4b4" shape-rendering="crispEdges"/>
<rect x="610" y="9" width="3" height="1" fill="#b4b4b4" shape-rendering="crispEdges"/>
<rect x="610" y="11" width="3" height="1" fill="#b4b4b4" shape-rendering="crispEdges"/>
<rect x="610" y="13" width="3" height="1" fill="#b4b4b4" shape-rendering="crispEdges"/>
<rect x="610" y="15" width="3" height="1" fill="#b4b4b4" shape-rendering="crispEdges"/>
<rect x="610" y="17" width="3" height="1" fill="#b4b4b4" shape-rendering="crispEdges"/>
<rect x="916" y="1" width="3" height="1" fill="#b4b4b4" shape-rendering="crispEdges"/>
<rect x="916" y="3" width="3" height="1" fill="#b4b4b4" shape-rendering="crispEdges"/>
<rect x="916" y="5" width="3" height="1" fill="#b4b4b4" shape-rendering="crispEdges"/>
<rect x="916" y="7" width="3" height="1" fill="#b4b4b4" shape-rendering="crispEdges"/>
<rect x="916" y="9" width="3" height="1" fill="#b4b4b4" shape-rendering="crispEdges"/>
<rect x="916" y="11" width="3" height="1" fill="#b4b4b4" shape-rendering="crispEdges"/>
<rect x="916" y="13" width="3" height="1" fill="#b4b4b4" shape-rendering="crispEdges"/>
<rect x="916" y="15" width="3" height="1" fill="#b4b4b4" shape-rendering="crispEdges"/>
<rect x="916" y="17" width="3" height="1" fill="#b4b4b4" shape-rendering="crispEdges"/>
<g transform="translate(12,0)">
<path d="M0.5,1.5 H8 L11.5,5 V14.5 H0.5 Z" fill="#fdfdfd" stroke="#8f8f8f" stroke-width="1"/>
<path d="M8,1.5 V5 H11.5" fill="#e4e4e4" stroke="#8f8f8f" stroke-width=".8"/>
<path d="M2.5,4.5 H5.5 M2.5,7 H8 M2.5,9.5 H5" stroke="#a8a8a8" stroke-width="1"/>
<path d="M8.5,7.5 H11.5 V11.5 H15.5 V14.5 H11.5 V18.5 H8.5 V14.5 H4.5 V11.5 H8.5 Z" fill="url(#gplus)" stroke="#089a14" stroke-width="1" stroke-linejoin="miter"/>
</g>
<text class="cj" x="30.5" y="12">新订单</text>
<g>
<path d="M84.6,2.2 L94.6,9.2 L95,10.9 L87.3,16.6 L86,16.4 L78.9,11.3 C78.7,10.2 80.6,8.6 82.4,5.6 Z" fill="url(#ggold)" stroke="#a56c10" stroke-width=".9" stroke-linejoin="round"/>
<path d="M94.2,9.6 L94.7,10.7 L87.4,16 L86.7,14.9 Z" fill="#efe3ae" stroke="#9a6a14" stroke-width=".5"/>
<path d="M79.3,11.2 L86.6,15.6" fill="none" stroke="#b57a14" stroke-width="1.5"/>
<path d="M80.3,10.5 L86.8,14.3 L93.4,9.3" fill="none" stroke="#fff0a8" stroke-width=".8" opacity=".9"/>
<path d="M81,9.6 C82.6,7.6 83.8,5.6 85,3.6" fill="none" stroke="#fff6c4" stroke-width="1.1" opacity=".9"/>
</g>
<g>
<path d="M109.1,2.2 L116.4,1.2 L120,3.6 L112.5,4.7 Z" fill="#2f62e2" stroke="#8fc4ff" stroke-width=".5"/>
<path d="M109.1,2.6 L112.5,4.9 V11 L109.1,9.8 Z" fill="#23a4ff"/>
<path d="M112.5,4.8 L120,3.8 V10.6 L112.5,11 Z" fill="url(#gblue)"/>
<path d="M112.5,4.8 V11 M109.2,2.5 L112.5,4.8 L120,3.8" fill="none" stroke="#d6eeff" stroke-width=".6"/>
<path d="M114.2,6.5 L118.6,5.8" stroke="#fff" stroke-width="1"/>
<path d="M110,16.6 C106.4,16.6 106,12 109,11.4 C109.5,9.8 112,9.6 112.8,10.6 C113.6,8.6 117.4,8.6 118.2,10.8 C119.4,9.9 121.8,10.4 121.6,11.6 C124.2,12 123.8,16.6 120.4,16.6 Z" fill="url(#gcloud)" stroke="#4f6ea8" stroke-width=".9"/>
</g>
<g fill="none">
<path d="M143,8.7 L143,16.7 A8,8 0 0 0 150.7,6.4 Z" fill="url(#gradar)" stroke="none"/>
<circle cx="143" cy="8.7" r="7.5" stroke="#5b87dd" stroke-width="1" stroke-opacity=".55"/>
<path d="M143,1.2 A7.5,7.5 0 0 0 143,16.2" stroke="#3f6fd6" stroke-width="1" stroke-opacity=".6"/>
<circle cx="143" cy="8.7" r="4.6" stroke="#5b87dd" stroke-width="1.1" stroke-opacity=".6"/>
<path d="M143,4.1 A4.6,4.6 0 0 0 143,13.3" stroke="#3f6fd6" stroke-width="1.1" stroke-opacity=".55"/>
<circle cx="143" cy="8.6" r="1.9" fill="#2a5fd0" stroke="#7ea3e8" stroke-width=".6"/>
<path d="M143.5,9 V16.8" stroke="#1fa01f" stroke-width="1.5"/>
</g>
<g>
<path d="M162.6,7.6 L170.2,16.8 L177.6,7.4 Z" fill="url(#gface)" stroke="#c8961a" stroke-width=".7" stroke-linejoin="round"/>
<path d="M162,5.6 C162,3.6 165,3.4 166.4,4.2 C167,0.8 172.6,0.8 173.2,4 C174.8,3.2 178,3.4 178,5.4 C178,7.6 174,8.7 170,8.7 C166,8.7 162,7.8 162,5.6 Z" fill="#62b4e6" stroke="#2a84b8" stroke-width=".8"/>
<ellipse cx="169.4" cy="3.2" rx="2.3" ry="1.5" fill="#b4e0f8" opacity=".85"/>
<path d="M163.4,6.6 C166,8 174,8 176.6,6.2" fill="none" stroke="#3a94c8" stroke-width=".8"/>
<circle cx="174.4" cy="12.6" r="4.1" fill="url(#gred)" stroke="#b81a0a" stroke-width=".6"/>
<rect x="173" y="11.2" width="2.8" height="2.8" fill="#fff"/>
</g>
<text class="cj" x="183.5" y="12">自动交易</text>
<g transform="translate(254,0)" stroke="#555" fill="#555" stroke-width="1.05">
<path d="M2.5,4.5 V16.5 M0,14.5 H12" fill="none"/>
<path d="M2.5,2.8 L4.4,5.6 H0.6 Z M14,14.5 L11.2,12.6 V16.4 Z" stroke="none"/>
</g>
<path d="M262.5,4.2 V12.4 M262.5,5.4 H265 M260,11.5 H262.5" stroke="#0a8a1e" stroke-width="1.3" fill="none"/>
<g transform="translate(282,0)" stroke="#555" fill="#555" stroke-width="1.05">
<path d="M2.5,4.5 V16.5 M0,14.5 H12" fill="none"/>
<path d="M2.5,2.8 L4.4,5.6 H0.6 Z M14,14.5 L11.2,12.6 V16.4 Z" stroke="none"/>
</g>
<path d="M290.5,1.2 V12.8" stroke="#0a8a1e" stroke-width="1.2"/>
<rect x="288.3" y="3.2" width="4.4" height="7.6" fill="#3fe050" stroke="#0a8a1e" stroke-width="1"/>
<g transform="translate(310,0)" stroke="#555" fill="#555" stroke-width="1.05">
<path d="M2.5,4.5 V16.5 M0,14.5 H12" fill="none"/>
<path d="M2.5,2.8 L4.4,5.6 H0.6 Z M14,14.5 L11.2,12.6 V16.4 Z" stroke="none"/>
</g>
<path d="M311,11.6 C314,10.5 315.5,5.2 318,6.3 C320,7.2 321,9.6 323,10" stroke="#2e9a3e" stroke-width="1.2" fill="none"/>
<g transform="translate(347.8,7.3)">
<path d="M3.6,3.8 L9.6,9.2" stroke="#b8921f" stroke-width="2.6" stroke-linecap="round"/>
<path d="M3.9,4.0 L9.4,9.0" stroke="#f3d66a" stroke-width="1.1" stroke-linecap="round"/>
<circle r="5.3" fill="url(#glens)" stroke="#3d87d6" stroke-width="1.3"/>
<path d="M-3,0 H3 M0,-3 V3" stroke="#3a86b8" stroke-width="1.7"/>
</g>
<g transform="translate(376.2,7)">
<path d="M3.6,3.8 L9.6,9.2" stroke="#b8921f" stroke-width="2.6" stroke-linecap="round"/>
<path d="M3.9,4.0 L9.4,9.0" stroke="#f3d66a" stroke-width="1.1" stroke-linecap="round"/>
<circle r="5.3" fill="url(#glens)" stroke="#3d87d6" stroke-width="1.3"/>
<path d="M-3,0 H3" stroke="#3a86b8" stroke-width="1.7"/>
</g>
<g transform="translate(398,1)" shape-rendering="crispEdges">
<rect x="0" y="0" width="8" height="8" fill="url(#ggrn)"/><rect x="8" y="0" width="8" height="8" fill="url(#gbl2)"/>
<rect x="0" y="8" width="8" height="8" fill="url(#gbl2)"/><rect x="8" y="8" width="8" height="8" fill="url(#ggrn)"/>
<rect x="1" y="3" width="6" height="4" fill="#fff"/>
<rect x="2" y="4" width="4" height="1" fill="#9fc3ea"/>
<rect x="9" y="3" width="6" height="4" fill="#fff"/>
<rect x="10" y="4" width="4" height="1" fill="#9fc3ea"/>
<rect x="1" y="11" width="6" height="4" fill="#fff"/>
<rect x="2" y="12" width="4" height="1" fill="#9fc3ea"/>
<rect x="9" y="11" width="6" height="4" fill="#fff"/>
<rect x="10" y="12" width="4" height="1" fill="#9fc3ea"/>
</g>
<g transform="translate(434,0)" stroke="#555" fill="#555" stroke-width="1.05">
<path d="M2.5,4.5 V16.5 M0,14.5 H12" fill="none"/>
<path d="M2.5,2.8 L4.4,5.6 H0.6 Z M14,14.5 L11.2,12.6 V16.4 Z" stroke="none"/>
</g>
<path d="M441.3,5 L445.2,8.3 L441.3,11.6 Z" fill="#46d05a" stroke="#0a8a1e" stroke-width=".9"/>
<g transform="translate(462,0)" stroke="#555" fill="#555" stroke-width="1.05">
<path d="M2.5,4.5 V16.5 M0,14.5 H12" fill="none"/>
<path d="M2.5,2.8 L4.4,5.6 H0.6 Z M14,14.5 L11.2,12.6 V16.4 Z" stroke="none"/>
</g>
<path d="M470.5,3 V12.8" stroke="#176fa8" stroke-width="1.3"/>
<path d="M471.6,8.3 H476 M471.6,8.3 L474,6 M471.6,8.3 L474,10.6" stroke="#d8430e" stroke-width="1.2" fill="none"/>
<g transform="translate(495,1)">
<path d="M0.5,0.5 H8 L11.5,4 V14 H0.5 Z" fill="#fdfdfd" stroke="#8a8a8a" stroke-width="1"/>
<path d="M8,0.5 V4 H11.5" fill="#e8e8e8" stroke="#8a8a8a" stroke-width=".8"/>
<path d="M4.6,3.6 C3,3.6 3.2,5 3.2,6.4 C3.2,7.4 2.4,7.6 2.4,7.6 C2.4,7.6 3.2,7.8 3.2,8.8 C3.2,10.2 3,11.6 4.6,11.6" fill="none" stroke="#555" stroke-width=".9"/>
<path d="M8.5,6.5 H11.5 V10.5 H15.5 V13.5 H11.5 V17.5 H8.5 V13.5 H4.5 V10.5 H8.5 Z" fill="url(#gplus)" stroke="#089a14" stroke-width="1" stroke-linejoin="miter"/>
</g>
<path d="M517,8 h5.4 l-2.7,3 z" fill="#000"/>
<g transform="translate(541,8.8)">
<circle r="6.6" fill="#f2f5f9" stroke="url(#gclk)" stroke-width="2.8"/>
<circle r="8" fill="none" stroke="#0a3f9e" stroke-width=".5"/><path d="M-6,-3.4 A6.9,6.9 0 0 1 1,-6.8" fill="none" stroke="#9fd0ff" stroke-width="1" opacity=".8"/>
<path d="M0,-5 V-4.2 M0,4.2 V5 M-5,0 H-4.2 M4.2,0 H5 M3.5,-3.5 L3,-3 M-3.5,-3.5 L-3,-3 M3.5,3.5 L3,3 M-3.5,3.5 L-3,3" stroke="#7a8aa0" stroke-width=".7" fill="none"/>
<path d="M-0.3,-3.6 V0.2 H2.6" fill="none" stroke="#2a2a2a" stroke-width="1.1"/>
</g>
<path d="M556,8 h5.4 l-2.7,3 z" fill="#000"/>
<g transform="translate(572,2)">
<rect x=".5" y=".5" width="15" height="13.2" fill="#fff" stroke="#2d6fcf" stroke-width="1"/>
<rect x="1" y="1" width="14" height="2.2" fill="#5e9ceb"/>
<path d="M1,8.2 H15" stroke="#2d6fcf" stroke-width="1"/>
<path d="M2,6.2 H4 L5.6,5 H7 L8.4,4.2 L10,5.2 H11.6 L13,4.2 H14" fill="none" stroke="#a02a12" stroke-width="1.1"/>
<path d="M2.6,11.4 L4.4,10.6 L6,11.4 H7.4 L10.4,9.2 L13.4,11.6" fill="none" stroke="#1f7f2a" stroke-width="1.1"/>
</g>
<path d="M594.6,8 h5.4 l-2.7,3 z" fill="#000"/>
<path d="M624,2 V13 L626.6,10.8 L629,16 L631,15 L628.7,10 H632 Z" fill="#4a4a4a"/>
<path d="M649,9.5 H655 M658,9.5 H664 M656.5,2 V8 M656.5,11 V17" stroke="#4a4a4a" stroke-width="1.3" fill="none"/>
<rect x="656" y="9" width="1" height="1" fill="#4a4a4a"/>
<path d="M690.5,3 V16" stroke="#4a4a4a" stroke-width="1.3"/>
<path d="M713,9.5 H725" stroke="#4a4a4a" stroke-width="1.3"/>
<path d="M740.8,15.8 L753,3.8" stroke="#555" stroke-width="1.05"/>
<g stroke="#555" stroke-width=".8" fill="none">
<path d="M766.6,10.5 L774.6,3.1 M772,15.7 L780.8,7.4"/>
</g>
<g stroke="#3c3c3c" stroke-width="1.3" fill="none">
<path d="M769.3,8.3 V15.6 M772.5,7 V12.6 M775.7,5.5 V11.7 M778.6,1.2 V8.3"/>
<path d="M767.8,14.4 H769.3 M769.3,9.6 H770.8 M771,11.6 H772.5 M772.5,8.4 H774 M774.2,10.6 H775.7 M775.7,6.6 H777.2 M777.1,6 H778.6 M778.6,3.4 H780.1" stroke-width="1"/>
</g>
<text x="777.6" y="17.7" style="font-size:7px;font-weight:bold;fill:#333;text-rendering:auto">E</text>
<path d="M796,2.5 H809" stroke="#4a4a4a" stroke-width="1" stroke-dasharray="1,1" shape-rendering="crispEdges"/>
<path d="M796,5.5 H809" stroke="#4a4a4a" stroke-width="1" stroke-dasharray="1,1" shape-rendering="crispEdges"/>
<path d="M796,9.5 H809" stroke="#4a4a4a" stroke-width="1" stroke-dasharray="1,1" shape-rendering="crispEdges"/>
<path d="M796,13.5 H805" stroke="#4a4a4a" stroke-width="1" stroke-dasharray="1,1" shape-rendering="crispEdges"/>
<text x="805.6" y="17.7" style="font-size:7px;font-weight:bold;fill:#333;text-rendering:auto">F</text>
<text x="826.6" y="13.8" style="font-size:11.5px;font-weight:bold;fill:#555">A</text>
<rect x="853.5" y="3.5" width="11" height="12" fill="none" stroke="#4a4a4a" stroke-width="1" stroke-dasharray="1,1" shape-rendering="crispEdges"/>
<text x="855.2" y="14" style="font-size:10.5px;font-weight:bold;fill:#555">T</text>
<g fill="#4a4a4a">
<path d="M880.3,6.6 L883.6,3 L887,6.6 L883.6,8 Z"/>
<path d="M887.3,12 L890.6,10.6 L894,12 L890.6,15.8 Z"/>
<path d="M882.6,10.4 L884.4,12.2 L888.6,7" fill="none" stroke="#4a4a4a" stroke-width="1.3"/>
</g>
<path d="M900.8,8 h5.4 l-2.7,3 z" fill="#000"/>
<text class="tf" x="927.7" y="12.7">M1</text>
<text class="tf" x="955.6" y="12.7">M5</text>
<text class="tf" x="981.7" y="12.7">M15</text>
<text class="tf" x="1009.6" y="12.7">M30</text>
<text class="tf" x="1040.7" y="12.7">H1</text>
<text class="tf" x="1068" y="12.7">H4</text>
<text class="tf" x="1096.3" y="12.7">D1</text>
<text class="tf" x="1124.2" y="12.7">W1</text>
<text class="tf" x="1150.8" y="12.7">MN</text>
<g fill="none" stroke="#1f5fd6">
<circle cx="1643.8" cy="6.4" r="3.6" stroke-width="1.2" fill="#f6f8ff"/>
<path d="M1641.2,9.2 L1635.8,14.2" stroke-width="2.4"/>
</g>
<path d="M1660.6,11 a5.6,4.6 0 0 1 11.2,0 a5.6,4.6 0 0 1 -7,4.4 l-1.8,2.2 l-.2,-3 a5,4.4 0 0 1 -2.2,-3.6 Z" fill="#e4e6ee" stroke="#b9bcc6" stroke-width=".8"/>
<circle cx="1674.6" cy="6.6" r="8" fill="url(#gred)"/>
<text class="w" x="1670.2" y="11" style="font-size:12.5px">1</text>
</svg></body></html>
